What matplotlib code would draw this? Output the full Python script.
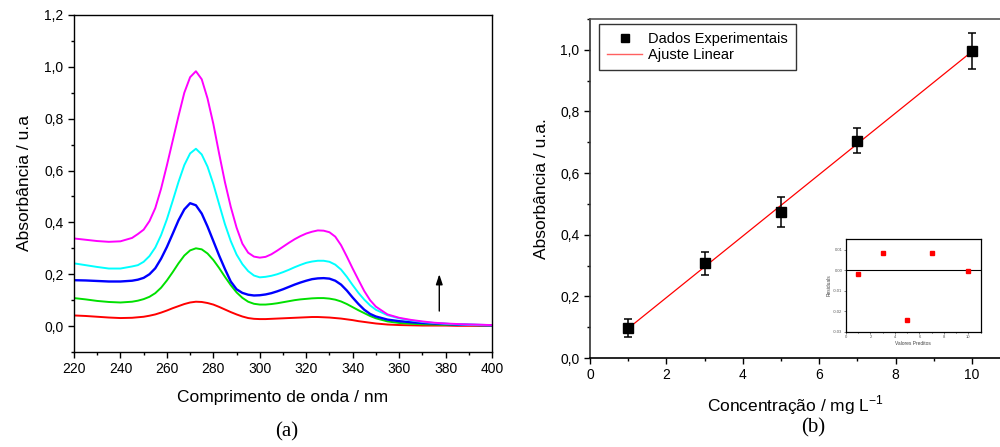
import matplotlib
matplotlib.use("Agg")
import matplotlib.pyplot as plt
from matplotlib.ticker import MultipleLocator, FuncFormatter
from matplotlib.lines import Line2D
import numpy as np

plt.rcParams['font.family'] = ['Liberation Sans', 'DejaVu Sans']

# ---- UV-Vis spectra (a) ----
wavelength = [220, 225, 230, 235, 240, 245,
              247.5, 250, 252.5, 255, 257.5, 260, 262.5, 265, 267.5, 270,
              272.5, 275, 277.5, 280, 282.5, 285, 287.5, 290, 292.5, 295,
              297.5, 300, 302.5, 305, 307.5, 310, 312.5, 315, 317.5, 320,
              322.5, 325, 327.5, 330, 332.5, 335, 337.5, 340, 342.5, 345,
              347.5, 350,
              355, 360, 365, 370, 375, 380, 385, 390, 395, 400]

abs_1 = [.041, .039, .036, .033, .031, .032,
         .034, .036, .040, .045, .052, .060, .069, .077, .085, .091,
         .094, .093, .089, .083, .074, .064, .054, .045, .037, .031,
         .028, .027, .027, .028, .029, .030, .031, .032, .033, .034,
         .035, .035, .034, .033, .031, .029, .026, .023, .019, .016,
         .013, .010,
         .006, .004, .003, .002, .002, .002, .001, .001, .001, .001]
abs_3 = [.108, .103, .097, .093, .091, .094,
         .098, .104, .113, .127, .148, .176, .208, .242, .272, .292,
         .300, .296, .280, .255, .224, .190, .158, .130, .109, .094,
         .086, .083, .083, .085, .088, .092, .096, .100, .103, .105,
         .107, .108, .108, .106, .102, .095, .085, .073, .061, .050,
         .039, .030,
         .018, .012, .009, .007, .006, .005, .004, .004, .003, .003]
abs_5 = [.177, .176, .174, .172, .172, .175,
         .179, .186, .200, .223, .260, .305, .356, .408, .450, .474,
         .466, .434, .384, .328, .272, .220, .172, .142, .128, .121,
         .118, .119, .122, .127, .134, .142, .151, .160, .168, .175,
         .181, .184, .185, .183, .175, .160, .137, .110, .085, .063,
         .047, .037,
         .025, .019, .015, .012, .010, .008, .006, .005, .004, .003]
abs_7 = [.242, .235, .228, .222, .222, .230,
         .235, .248, .270, .303, .351, .412, .483, .556, .621, .666,
         .684, .662, .615, .548, .470, .393, .328, .276, .239, .212,
         .195, .188, .190, .194, .200, .208, .217, .227, .236, .244,
         .249, .252, .252, .248, .237, .218, .190, .158, .128, .102,
         .080, .063,
         .042, .030, .022, .016, .012, .009, .007, .005, .004, .003]
abs_10 = [.338, .333, .328, .325, .327, .340,
          .355, .372, .405, .455, .530, .620, .715, .810, .900, .960,
          .983, .952, .878, .780, .665, .555, .460, .380, .318, .283,
          .268, .264, .267, .277, .291, .306, .321, .335, .347, .357,
          .364, .369, .368, .362, .345, .312, .268, .222, .178, .135,
          .100, .075,
          .045, .032, .024, .018, .013, .010, .008, .006, .005, .004]

spectra = [abs_1, abs_3, abs_5, abs_7, abs_10]
spectra_colors = ['#ff0000', '#00e000', '#0000ff', '#00ffff', '#ff00ff']
spectra_widths = [1.4, 1.4, 1.7, 1.4, 1.4]

# ---- calibration curve (b) ----
conc = [1, 3, 5, 7, 10]
absorb = [0.097, 0.307, 0.473, 0.705, 0.996]
absorb_err = [0.030, 0.038, 0.048, 0.040, 0.059]

# residuals of the fit
resid_x = [1, 3, 5, 7, 10]
resid_y = [-0.0021, 0.0081, -0.0243, 0.0081, -0.0006]

comma = FuncFormatter(lambda v, p: f"{v:.1f}".replace('.', ','))

fig = plt.figure(figsize=(10, 4.47), dpi=100)

# ---------------- panel (a) ----------------
ax1 = fig.add_axes([0.074, 0.2125, 0.418, 0.754])
for ys, c, lw in zip(spectra, spectra_colors, spectra_widths):
    ax1.plot(wavelength, ys, color=c, lw=lw, solid_joinstyle='round',
             solid_capstyle='round')
ax1.set_xlim(220, 400)
ax1.set_ylim(-0.1, 1.2)
ax1.xaxis.set_major_locator(MultipleLocator(20))
ax1.xaxis.set_minor_locator(MultipleLocator(10))
ax1.yaxis.set_major_locator(MultipleLocator(0.2))
ax1.yaxis.set_minor_locator(MultipleLocator(0.1))
ax1.yaxis.set_major_formatter(comma)
ax1.tick_params(which='major', direction='out', length=4.5, width=1, labelsize=10, pad=3)
ax1.tick_params(which='minor', direction='out', length=2.5, width=1)
for s in ax1.spines.values():
    s.set_linewidth(1.0)
ax1.set_xlabel('Comprimento de onda / nm', fontsize=12.5, labelpad=10)
ax1.set_ylabel('Absorbância / u.a', fontsize=12.5, labelpad=9)
ax1.annotate('', xy=(377.3, 0.20), xytext=(377.3, 0.058),
             arrowprops=dict(arrowstyle='-|>,head_length=0.6,head_width=0.2',
                             color='black', lw=1.0,
                             mutation_scale=10, shrinkA=0, shrinkB=0))

# ---------------- panel (b) ----------------
ax2 = fig.add_axes([0.590, 0.1991, 0.410, 0.7584])
slope, intercept = np.polyfit(conc, absorb, 1)
fit_x = np.array([conc[0], conc[-1]])
ax2.plot(fit_x, slope * fit_x + intercept, color='#ff0000', lw=0.9, zorder=2)
ax2.errorbar(conc, absorb, yerr=absorb_err, fmt='s', color='black', ms=7.5,
             ecolor='black', elinewidth=1.1, capsize=3, capthick=1.1, zorder=3)
ax2.set_xlim(0, 10.73)
ax2.set_ylim(0, 1.1)
ax2.xaxis.set_major_locator(MultipleLocator(2))
ax2.xaxis.set_minor_locator(MultipleLocator(1))
ax2.yaxis.set_major_locator(MultipleLocator(0.2))
ax2.yaxis.set_minor_locator(MultipleLocator(0.1))
ax2.yaxis.set_major_formatter(comma)
ax2.tick_params(which='major', direction='out', length=4.5, width=1, labelsize=10, pad=3)
ax2.tick_params(which='minor', direction='out', length=2.5, width=1)
ax2.spines['right'].set_visible(False)
ax2.spines['top'].set_color('#555555')
ax2.spines['left'].set_color('#333333')
for s in ax2.spines.values():
    s.set_linewidth(1.2)
ax2.set_xlabel('Concentração / mg L$^{\\mathregular{-1}}$', fontsize=12.5, labelpad=8)
ax2.set_ylabel('Absorbância / u.a.', fontsize=12.5, labelpad=8)

handles = [Line2D([], [], marker='s', color='black', ls='none', ms=5.5),
           Line2D([], [], color='#ff6060', lw=1.0)]
leg = ax2.legend(handles, ['Dados Experimentais', 'Ajuste Linear'],
                 loc='upper left', bbox_to_anchor=(0.022, 0.985),
                 fontsize=10.5, frameon=True, fancybox=False, borderaxespad=0,
                 borderpad=0.55, labelspacing=0.12, handlelength=2.4,
                 handletextpad=0.4)
leg.get_frame().set_edgecolor('black')
leg.get_frame().set_linewidth(1.0)

# residuals inset
ax3 = fig.add_axes([0.846, 0.2579, 0.1347, 0.2067])
ax3.axhline(0, color='black', lw=0.8)
ax3.plot(resid_x, resid_y, 's', color='#ff0000', ms=2.2, mec='#ff0000')
ax3.set_xlim(0, 11)
ax3.set_ylim(-0.03, 0.015)
ax3.xaxis.set_major_locator(MultipleLocator(2))
ax3.xaxis.set_minor_locator(MultipleLocator(1))
ax3.yaxis.set_major_locator(MultipleLocator(0.01))
ax3.yaxis.set_major_formatter(FuncFormatter(lambda v, p: f"{v:.2f}"))
ax3.tick_params(which='major', direction='out', length=1.5, width=0.5,
                labelsize=3, pad=1, colors='#555555')
ax3.tick_params(which='minor', direction='out', length=1, width=0.5)
for s in ax3.spines.values():
    s.set_linewidth(0.9)
ax3.set_xlabel('Valores Preditos', fontsize=3.5, labelpad=1, color='#444444')
ax3.set_ylabel('Residuals', fontsize=3.5, labelpad=1, color='#444444')

fig.text(0.287, 0.033, '(a)', family=['Liberation Serif', 'DejaVu Serif'],
         fontsize=15, ha='center', va='center')
fig.text(0.813, 0.042, '(b)', family=['Liberation Serif', 'DejaVu Serif'],
         fontsize=15, ha='center', va='center')

fig.savefig('out.png', dpi=100, facecolor='white')
